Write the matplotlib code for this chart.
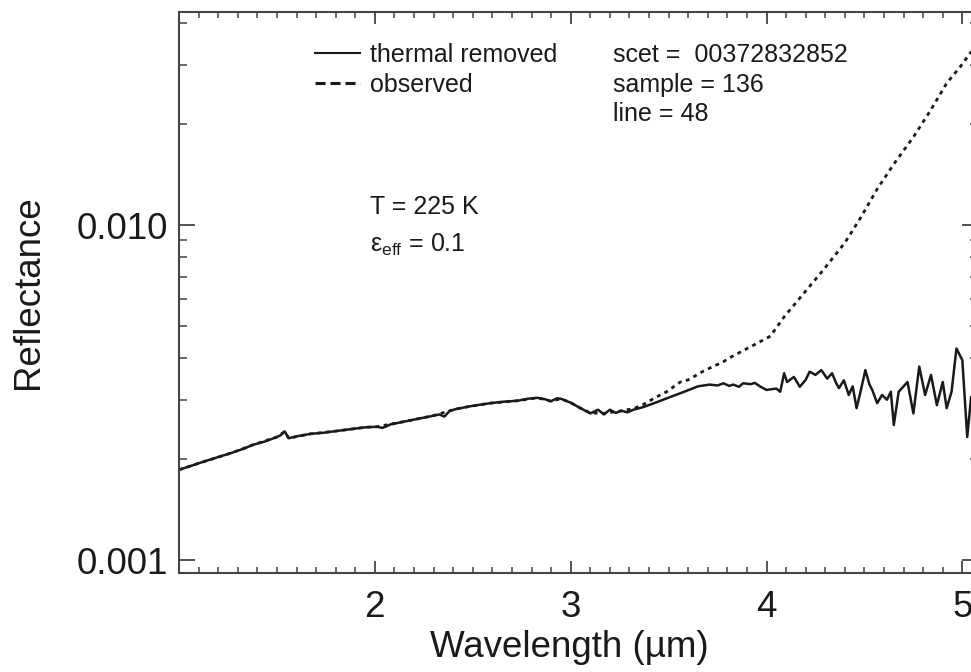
import numpy as np
import matplotlib
matplotlib.use('Agg')
import matplotlib.pyplot as plt
from matplotlib.lines import Line2D
from matplotlib.ticker import LogLocator, NullFormatter, MultipleLocator

# Fonts
plt.rcParams['font.family'] = ['Liberation Sans', 'DejaVu Sans']
plt.rcParams['mathtext.fontset'] = 'custom'
plt.rcParams['mathtext.rm'] = 'Liberation Sans'
plt.rcParams['mathtext.it'] = 'Liberation Sans:italic'

# Thermal-removed spectrum (solid)
thermal_wl = [1.00, 1.06, 1.13, 1.20, 1.27, 1.33, 1.38, 1.44, 1.50, 1.52,
              1.54, 1.56, 1.60, 1.67, 1.74, 1.81, 1.88, 1.95, 2.01, 2.04,
              2.08, 2.15, 2.22, 2.29, 2.33, 2.355, 2.38, 2.41, 2.45, 2.49,
              2.54, 2.59, 2.66, 2.73, 2.78, 2.83, 2.87, 2.90, 2.93, 2.95,
              3.00, 3.05, 3.10, 3.14, 3.17, 3.20, 3.23, 3.26, 3.29, 3.32,
              3.37, 3.44, 3.51, 3.58, 3.65, 3.71, 3.75, 3.78, 3.81, 3.83,
              3.86, 3.88, 3.92, 3.94, 3.97, 4.00, 4.05, 4.07, 4.09, 4.105,
              4.14, 4.17, 4.20, 4.22, 4.25, 4.28, 4.31, 4.335, 4.355, 4.37,
              4.395, 4.42, 4.44, 4.46, 4.48, 4.505, 4.525, 4.54, 4.565, 4.59,
              4.615, 4.635, 4.65, 4.675, 4.70, 4.72, 4.75, 4.78, 4.81, 4.84,
              4.87, 4.90, 4.92, 4.945, 4.97, 5.00, 5.025, 5.045, 5.06]
thermal_r = [0.00186, 0.00191, 0.00197, 0.00203, 0.00209, 0.00215, 0.00221, 0.00226, 0.00233, 0.00236,
             0.00242, 0.00231, 0.00234, 0.00238, 0.00240, 0.00243, 0.00246, 0.00249, 0.00250, 0.00248,
             0.00254, 0.00259, 0.00264, 0.00269, 0.00272, 0.00268, 0.00278, 0.00282, 0.00285, 0.00288,
             0.00291, 0.00294, 0.00297, 0.00299, 0.00303, 0.00305, 0.00302, 0.00298, 0.00304, 0.00303,
             0.00295, 0.00284, 0.00274, 0.00281, 0.00272, 0.00281, 0.00275, 0.00279, 0.00276, 0.00281,
             0.00286, 0.00296, 0.00307, 0.00318, 0.00330, 0.00334, 0.00332, 0.00337, 0.00331, 0.00334,
             0.00329, 0.00337, 0.00335, 0.00338, 0.00329, 0.00322, 0.00325, 0.00318, 0.00361, 0.00340,
             0.00352, 0.00329, 0.00345, 0.00365, 0.00357, 0.00369, 0.00348, 0.00361, 0.00338, 0.00326,
             0.00344, 0.00311, 0.00330, 0.00284, 0.00318, 0.00369, 0.00335, 0.00322, 0.00294, 0.00311,
             0.00301, 0.00318, 0.00253, 0.00318, 0.00330, 0.00340, 0.00274, 0.00378, 0.00311, 0.00357,
             0.00290, 0.00340, 0.00284, 0.00318, 0.00428, 0.00395, 0.00233, 0.00307, 0.00300]

# Observed spectrum (dashed)
observed_wl = [1.00, 1.13, 1.27, 1.38, 1.50, 1.54, 1.56, 1.67, 1.81, 1.95,
               2.01, 2.15, 2.29, 2.41, 2.49, 2.59, 2.73, 2.83, 2.90, 2.95,
               3.00, 3.05, 3.10, 3.17, 3.26, 3.32, 3.37, 3.43, 3.49, 3.56,
               3.60, 3.68, 3.78, 3.82, 3.95, 4.02, 4.09, 4.19, 4.29, 4.40,
               4.48, 4.565, 4.65, 4.75, 4.84, 4.92, 4.99, 5.04, 5.08]
observed_r = [0.00186, 0.00197, 0.00209, 0.00221, 0.00233, 0.00242, 0.00231, 0.00238, 0.00243, 0.00249,
              0.00250, 0.00259, 0.00269, 0.00282, 0.00288, 0.00294, 0.00299, 0.00305, 0.00298, 0.00303,
              0.00295, 0.00284, 0.00275, 0.00274, 0.00279, 0.00283, 0.00291, 0.00305, 0.00318, 0.00340,
              0.00345, 0.00367, 0.00391, 0.00404, 0.00443, 0.00466, 0.00532, 0.00625, 0.00734, 0.00885,
              0.01050, 0.01280, 0.01520, 0.01830, 0.02210, 0.02650, 0.02970, 0.03260, 0.03450]

x_ticks = [2, 3, 4, 5]
y_ticks = [0.001, 0.01]
y_ticklabels = ['0.001', '0.010']

W, H = 971, 672
fig = plt.figure(figsize=(W / 100, H / 100), dpi=100)
left, right, top, bottom = 179, 978, 12, 573
ax = fig.add_axes([left / W, 1 - bottom / H, (right - left) / W, (bottom - top) / H])

ink = '#1a1a1a'
ax.plot(thermal_wl, thermal_r, color=ink, lw=1.8, solid_joinstyle='round')
ax.plot(observed_wl, observed_r, color=ink, lw=2.0, linestyle=(0, (1.4, 1.6)),
        dash_capstyle='butt')

ax.set_yscale('log')
ax.set_xlim(1.0, 5.08)
ax.set_ylim(0.000915, 0.04323)

ax.set_xticks(x_ticks)
ax.xaxis.set_minor_locator(MultipleLocator(0.1))
ax.set_yticks(y_ticks)
ax.set_yticklabels(y_ticklabels)
ax.yaxis.set_minor_locator(LogLocator(base=10, subs=np.arange(2, 10)))
ax.yaxis.set_minor_formatter(NullFormatter())

spine_col = '#444444'
for s in ax.spines.values():
    s.set_color(spine_col)
    s.set_linewidth(1.5)
ax.tick_params(axis='both', which='both', direction='in', top=True, right=True,
               color=spine_col, labelsize=26.5, labelcolor=ink)
ax.tick_params(axis='x', which='major', length=8.5, width=1.3, pad=12)
ax.tick_params(axis='x', which='minor', length=4.0, width=1.1)
ax.tick_params(axis='y', which='major', length=11.5, width=1.3, pad=8)
ax.tick_params(axis='y', which='minor', length=5.5, width=1.1)

ax.set_xlabel('Wavelength (\u00b5m)', fontsize=26.5, color=ink)
ax.set_ylabel('Reflectance', fontsize=26.5, color=ink)
ax.xaxis.set_label_coords((569 - left) / (right - left), (bottom - 630) / (bottom - top))
ax.yaxis.label.set_va('center')
ax.yaxis.set_label_coords((28 - left) / (right - left), 0.5)

# Legend
handles = [Line2D([], [], color=ink, lw=1.5),
           Line2D([], [], color=ink, lw=2.2, linestyle=(0, (3.3, 1.6)), dash_capstyle='butt')]
ax.legend(handles, ['thermal removed', 'observed'], loc='upper left',
          bbox_to_anchor=(315 / W, 1 - 43 / H), bbox_transform=fig.transFigure,
          frameon=False, fontsize=18, handlelength=1.8, handletextpad=0.4,
          labelspacing=0.22, borderpad=0, borderaxespad=0, labelcolor=ink)

# Annotations
def px_text(x, y, s):
    ax.text((x - left) / (right - left), (bottom - y) / (bottom - top), s,
            transform=ax.transAxes, fontsize=18, color=ink, ha='left', va='center')

px_text(613, 55, 'scet =  00372832852')
px_text(613, 85, 'sample = 136')
px_text(613, 114, 'line = 48')
px_text(370, 207, 'T = 225 K')
px_text(370, 245, '$\\mathrm{\u03b5}_{\\mathrm{eff}}$ = 0.1')

fig.savefig('out.png', dpi=100)
